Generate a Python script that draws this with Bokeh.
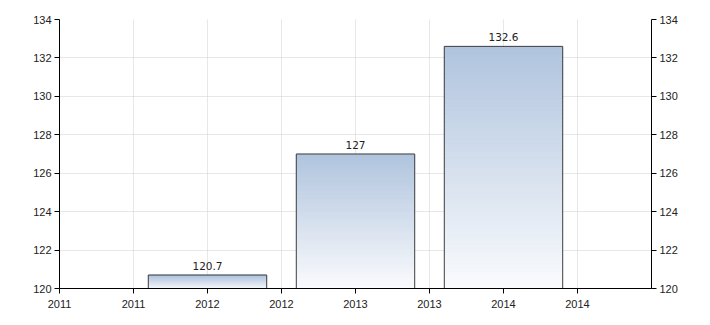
from bokeh.plotting import figure
from bokeh.models import Range1d, LinearAxis, FixedTicker, ColumnDataSource
from bokeh.core.properties import value
from bokeh.embed import file_html
from bokeh.resources import INLINE

# ---- data ----
years = [2012, 2013, 2014]
values = [120.7, 127.0, 132.6]
x_ticks = [2011, 2011.5, 2012, 2012.5, 2013, 2013.5, 2014, 2014.5]
x_tick_labels = ["2011", "2011", "2012", "2012", "2013", "2013", "2014", "2014"]
y_ticks = [120, 122, 124, 126, 128, 130, 132, 134]

BASE = 120
BAR_W = 0.8
N_SLICES = 60
TOP_RGB = (176, 196, 222)
BOT_RGB = (250, 251, 253)

p = figure(width=710, height=325, output_backend="svg", toolbar_location=None,
           x_range=Range1d(2011, 2015), y_range=Range1d(120, 134),
           min_border_left=59, min_border_right=59, min_border_top=19, min_border_bottom=37)
p.background_fill_color = "white"
p.border_fill_color = "white"
p.outline_line_color = None

# gradient slices for each bar (computed from the data values)
l, r, b, t, c = [], [], [], [], []
for yr, v in zip(years, values):
    h = v - BASE
    for i in range(N_SLICES):
        f0 = i / N_SLICES
        f1 = (i + 1) / N_SLICES
        fm = (f0 + f1) / 2
        col = tuple(int(round(BOT_RGB[k] + (TOP_RGB[k] - BOT_RGB[k]) * fm)) for k in range(3))
        l.append(yr - BAR_W / 2)
        r.append(yr + BAR_W / 2)
        b.append(BASE + h * f0)
        t.append(BASE + h * min(1.0, f1 + 0.5 / N_SLICES))
        c.append("#%02x%02x%02x" % col)
gsrc = ColumnDataSource(dict(l=l, r=r, b=b, t=t, c=c))
p.quad(left="l", right="r", bottom="b", top="t", fill_color="c", line_color="c",
       line_width=0.6, source=gsrc)

# outlines
src = ColumnDataSource(dict(x=years, top=values, lbl=[f"{v:g}" for v in values]))
p.vbar(x="x", top="top", bottom=BASE, width=BAR_W, source=src,
       fill_color=None, line_color="#404040", line_width=1)

p.text(x="x", y="top", text="lbl", source=src, text_align="center", text_baseline="bottom",
       y_offset=-5, text_font=value("DejaVu Sans"), text_font_size="10.5px", text_color="#222222")

# grids
for g in (p.xgrid, p.ygrid):
    g.grid_line_color = "#cfcfcf"
    g.grid_line_dash = "1 1"
    g.grid_line_width = 1
p.xgrid.ticker = FixedTicker(ticks=x_ticks)
p.ygrid.ticker = FixedTicker(ticks=y_ticks)

# axes
def style_axis(ax):
    ax.axis_line_color = "black"
    ax.axis_line_width = 1
    ax.major_tick_line_color = "black"
    ax.major_tick_out = 5
    ax.major_tick_in = 0
    ax.minor_tick_line_color = None
    ax.major_label_text_font = "Liberation Sans"
    ax.major_label_text_font_size = "11px"
    ax.major_label_text_color = "#222222"

xa = p.xaxis[0]
xa.ticker = FixedTicker(ticks=x_ticks)
xa.major_label_overrides = {t_: s for t_, s in zip(x_ticks, x_tick_labels)}
style_axis(xa)
xa.major_label_standoff = 6

ya = p.yaxis[0]
ya.ticker = FixedTicker(ticks=y_ticks)
style_axis(ya)
ya.major_label_standoff = 3

ra = LinearAxis(ticker=FixedTicker(ticks=y_ticks))
style_axis(ra)
ra.major_label_standoff = 3
p.add_layout(ra, "right")

open("out.html", "w").write(file_html(p, INLINE))
